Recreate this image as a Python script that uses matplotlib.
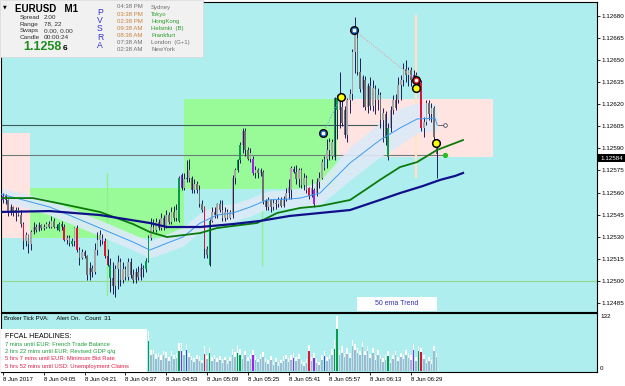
import numpy as np
import matplotlib
matplotlib.use("Agg")
import matplotlib.pyplot as plt
from matplotlib.patches import Rectangle

plt.rcParams['font.family'] = ['Liberation Sans', 'DejaVu Sans']

# ---------------- data (prices in points above 1.12000) ----------------
BASE = 1.12
PT = 1e-5

opens = [555,558,555,547,550,546,548,545,539,527,531,525,533,537,535,538,536,537,539,537,
         541,537,535,539,537,528,529,525,527,536,521,516,520,517,504,509,506,521,528,529,
         527,517,511,502,497,508,513,501,508,503,513,504,501,506,503,509,508,514,529,537,
         535,540,536,543,537,545,540,547,543,541,572,563,569,570,570,562,566,562,552,550,
         522,511,541,547,545,552,548,543,547,543,545,570,575,582,592,602,589,583,583,573,
         575,573,574,554,550,555,550,553,552,555,551,556,560,562,576,574,569,575,565,570,
         563,558,562,560,567,570,577,583,589,585,584,624,616,618,616,599,623,627,655,665,
         642,630,636,618,632,619,630,623,626,609,613,584,604,616,623,623,633,636,644,640,
         643,638,640,634,634,604,608,621,613,617,594]
highs = [560,559,556,552,551,550,550,548,540,533,532,535,540,539,540,539,539,540,541,544,
         543,539,540,541,539,531,531,529,537,538,523,522,521,518,513,511,526,533,535,532,
         529,522,516,513,511,518,516,513,510,516,516,508,509,510,512,511,516,531,543,542,
         543,542,546,545,548,547,550,551,552,571,573,573,582,583,571,569,568,565,555,551,
         524,542,550,550,553,555,555,550,549,548,572,577,583,594,604,604,591,590,585,578,
         577,577,575,556,557,556,556,556,557,557,558,563,569,578,578,579,577,577,573,572,
         564,569,563,570,574,583,585,596,597,596,625,626,642,623,619,624,630,657,679,668,
         651,640,639,634,638,636,633,631,628,617,615,607,619,626,627,638,640,648,650,645,
         645,643,642,636,636,611,623,623,621,619,596]
lows = [553,552,544,545,544,541,544,537,522,524,519,521,532,533,534,535,535,536,536,536,
        536,535,534,535,527,525,524,524,524,520,511,515,516,501,501,503,505,518,524,525,
        516,510,493,491,489,495,497,499,501,501,502,499,499,501,501,503,506,513,528,533,
        533,535,535,535,536,539,539,541,541,540,562,562,567,567,560,560,560,550,547,516,
        516,510,540,543,543,547,541,541,542,542,543,566,574,580,587,585,582,581,572,570,
        570,571,552,548,548,547,548,549,550,550,550,554,556,556,573,566,564,563,562,560,
        556,557,550,558,563,569,575,577,582,583,582,596,604,605,597,594,614,623,641,640,
        628,618,616,614,616,615,613,616,604,594,592,582,601,613,616,621,623,632,635,632,
        632,636,631,630,602,598,606,609,608,594,570]
closes = [558,555,547,550,546,548,545,539,527,531,525,533,537,535,538,536,537,539,537,541,
          537,536,539,537,528,529,526,527,536,521,516,520,517,504,509,506,521,528,531,527,
          517,511,502,497,508,513,501,508,503,513,504,501,506,503,509,508,514,529,537,535,
          540,536,543,537,545,540,547,543,548,570,563,569,570,575,562,566,562,552,548,522,
          518,541,547,545,552,548,543,547,543,547,570,575,582,592,602,589,583,587,573,575,
          573,575,554,550,555,550,553,552,555,551,556,560,564,577,574,569,575,565,570,562,
          558,563,552,567,570,581,583,589,594,594,624,616,623,607,599,623,627,655,667,642,
          630,638,618,632,619,631,623,626,609,614,597,604,616,623,617,633,636,644,640,643,
          636,640,634,632,604,608,621,613,617,598,586]
volumes = [35,28,40,30,25,45,32,38,55,40,36,30,25,22,28,20,24,18,26,30,
           22,27,40,25,48,30,28,38,35,52,45,33,28,46,38,30,42,36,32,35,
           44,48,50,42,36,40,30,28,34,26,30,24,28,32,26,30,
           51,73,38,42,30,35,28,40,33,25,
           36,30,33,50,48,38,52,35,28,22,
           30,25,20,42,30,44,25,30,22,28,
           20,26,18,24,40,35,45,40,30,38,
           25,30,38,28,22,30,35,22,18,26,
           15,22,12,20,25,30,22,28,33,25,
           30,18,12,20,48,25,33,20,15,28,
           36,25,30,40,55,102,40,45,35,42,
           33,60,52,45,40,58,38,50,32,45,
           28,40,30,22,28,36,20,30,38,25,
           35,30,40,32,28,51,25,49,46,30,
           20,25,18,48,35]
vol_tips = [12,10,14,9,11,15,8,12,16,10,9,13,11,8,12,10,9,14,11,10,
            12,9,15,10,13,11,9,12,10,14,12,10,9,13,11,10,12,9,11,10,
            13,12,14,10,11,12,9,10,11,8,10,9,11,12,8,10,
            12,25,14,10,12,9,11,8,13,10,
            12,9,11,18,20,10,14,9,8,10,
            9,12,8,20,9,12,10,8,11,9,
            10,8,9,10,14,12,18,15,10,12,
            9,11,14,10,8,12,11,9,8,10,
            8,9,10,8,12,10,9,11,12,10,
            12,8,9,10,15,10,12,9,8,10,
            12,10,9,14,20,33,12,15,10,14,
            12,15,14,12,10,13,12,11,10,12,
            10,12,9,10,11,12,8,10,12,9,
            10,9,12,11,10,14,9,12,10,9,
            8,10,9,14,10]
# PVSRA colour codes for special bars (g=bull climax, r=bear climax, b/p=rising volume)
bar_codes = {0:'p',5:'g',8:'r',22:'g',24:'r',27:'g',29:'r',39:'p',40:'r',41:'r',42:'g',
             56:'g',57:'g',69:'g',70:'p',72:'b',79:'r',81:'g',92:'g',93:'g',98:'p',114:'p',
             120:'r',122:'p',126:'b',130:'g',131:'g',151:'g',161:'p',163:'g',164:'r'}

# moving averages (bar position, points)
ma_slow_x = [-0.8,18.4,38.0,57.6,64.3,77.3,90.2,100.8,112.5,124.3,136.1,147.8,155.7,164.7,171.4,177.3,180.4]
ma_slow_v = [546.9,547.5,544.8,539.4,536.7,536.7,538.7,540.8,544.2,546.2,548.2,555.0,559.7,564.5,568.6,571.3,573.3]
ma_50_x = [-0.8,11.8,25.1,38.0,51.0,57.6,64.3,77.3,83.9,90.2,99.6,107.5,116.5,124.3,136.1,142.0,147.8,155.7,162.4,170.2,180.4]
ma_50_v = [556.3,556.3,551.6,546.9,538.7,533.3,529.9,532.6,536.0,537.4,539.4,546.2,549.6,550.9,555.0,561.8,568.6,577.3,580.7,588.9,595.6]
ema_x = [-0.8,18.4,38.0,51.0,57.6,64.3,70.6,77.3,83.9,90.2,96.9,103.5,112.5,116.5,124.3,129.4,136.1,147.8,155.7,162.4,169.4,170.3]
ema_v = [559.0,550.2,536.0,526.5,521.1,525.8,529.9,539.4,544.8,546.2,550.2,555.0,555.7,556.3,559.7,568.5,580.1,595.6,603.8,609.9,610.5,605.7]
band_hi = [563.1,555.0,541.4,531.9,527.2,531.9,536.7,546.2,551.6,552.3,556.3,561.1,561.8,563.1,567.9,578.0,590.9,607.2,617.3,620.7,620.0,614.0]
band_lo = [554.3,544.8,530.6,521.1,515.7,519.7,523.8,533.3,538.7,540.1,544.1,548.9,549.6,549.6,551.6,559.0,568.5,584.1,592.3,600.4,602.4,600.0]

# zones: (start bar, end bar, low pts, high pts, colour)
zones = [(-0.8, 10.6, 529.0, 600.2, '#FFE4E1'),
         (10.6, 71.0, 529.0, 563.3, '#98FB98'),
         (71.0, 131.0, 562.2, 623.4, '#98FB98'),
         (131.0, 192.2, 584.1, 623.4, '#FFE4E1')]
hlines = [(606.0, -0.8, 151.0, '#3E5E5E'), (585.5, -0.8, 172.0, '#6E7C7C'), (500.0, -0.8, 233.0, '#8FD88F')]
vlines_ = [(40.9, 490.6, 573.3, '#90EE90', 1.0), (101.6, 511.0, 548.2, '#90EE90', 1.0), (162.0, 570.6, 679.7, '#FFE4C4', 1.6)]
blue_pts = [(137.6, 670.2), (125.5, 600.4)]
yellow_pts = [(132.5, 624.8), (162.0, 630.9), (169.8, 593.6)]
red_pts = [(162.0, 636.3)]

price_ticks = [485, 500, 515, 530, 545, 560, 575, 590, 605, 620, 635, 650, 665, 680]
time_pos = [0, 16, 32, 48, 64, 80, 96, 112, 128, 144, 160]
time_labels = ['8 Jun 2017', '8 Jun 04:05', '8 Jun 04:21', '8 Jun 04:37', '8 Jun 04:53', '8 Jun 05:09',
               '8 Jun 05:25', '8 Jun 05:41', '8 Jun 05:57', '8 Jun 06:13', '8 Jun 06:29']

# ---------------- drawing ----------------
W, H = 625, 386
fig = plt.figure(figsize=(W / 100, H / 100), dpi=100)
fig.patch.set_facecolor('white')

def fx(px):
    return px / W

def fy(py):
    return 1 - py / H

def P(a):
    return BASE + np.asarray(a, dtype=float) * PT

BG = '#AFEEEE'
SMALL = 4.5
PAL = {'g': '#0A9A4A', 'r': '#DC143C', 'b': '#2A52D8', 'p': '#A020F0'}
BULL, BEAR, WICK = '#A6A6A6', '#707070', '#1E1E5A'

n = len(opens)
xi = np.arange(n)
XMIN, XMAX = -0.784, 232.94

ax = fig.add_axes([fx(1), fy(311.5), fx(596), (311.5 - 2) / H])
ax.set_facecolor(BG)
ax.set_xlim(XMIN, XMAX)
ax.set_ylim(float(P(479.45)), float(P(689.15)))

for x0, x1, lo, hi, c in zones:
    ax.add_patch(Rectangle((x0, float(P(lo))), x1 - x0, float(P(hi) - P(lo)), facecolor=c, lw=0, zorder=0.5))
for v, x0, x1, c in hlines:
    ax.plot([x0, x1], [P(v), P(v)], color=c, lw=0.8, zorder=0.8)
for x, lo, hi, c, lw in vlines_:
    ax.plot([x, x], [P(lo), P(hi)], color=c, lw=lw, zorder=0.9)

ax.fill_between(ema_x, P(band_lo), P(band_hi), color='#DCEAF8', lw=0, alpha=0.9, zorder=1)

cols = []
for i in range(n):
    code = bar_codes.get(i)
    if code:
        cols.append(PAL[code])
    else:
        cols.append(BULL if closes[i] >= opens[i] else BEAR)
o = np.array(opens, float)
c = np.array(closes, float)
bottoms = np.minimum(o, c)
heights = np.maximum(np.abs(c - o), 0.7)
ax.vlines(xi, P(lows), P(highs), colors=WICK, lw=0.7, zorder=2)
ax.bar(xi, heights * PT, bottom=P(bottoms), width=0.62, color=cols, lw=0, zorder=2.5)

ax.plot(ema_x, P(ema_v), color='#3D9BF0', lw=0.7, zorder=3)
ax.plot(ma_50_x, P(ma_50_v), color='#0B7A0B', lw=1.3, zorder=3.1)
ax.plot(ma_slow_x, P(ma_slow_v), color='#10108A', lw=1.6, zorder=3.2)

# dotted connector lines
ax.plot([blue_pts[0][0], red_pts[0][0]], [P(blue_pts[0][1]), P(red_pts[0][1])], color='#E8A0A0', lw=0.8, ls=(0, (1, 1.5)), zorder=3.5)
ax.plot([blue_pts[1][0], yellow_pts[0][0]], [P(blue_pts[1][1]), P(yellow_pts[0][1])], color='#6FA8DC', lw=0.8, ls=(0, (1, 1.5)), zorder=3.5)

for x, v in blue_pts:
    ax.plot(x, P(v), 'o', ms=5.5, mfc='#1E6FE0', mec='black', mew=1.0, zorder=5)
    ax.plot(x, P(v), 's', ms=1.8, mfc='white', mec='white', zorder=5.1)
for x, v in yellow_pts:
    ax.plot(x, P(v), 'o', ms=5.5, mfc='#FFFF00', mec='black', mew=1.1, zorder=5)
for x, v in red_pts:
    ax.plot(x, P(v), 'o', ms=5.5, mfc='#FF1010', mec='black', mew=1.0, zorder=5)
    ax.plot(x, P(v), 's', ms=1.8, mfc='white', mec='white', zorder=5.1)
ax.plot([170.5, 172.6], [P(606), P(606)], color='#505050', lw=0.6, zorder=5)
ax.plot(173.2, P(606), 'o', ms=2.6, mfc='white', mec='#404040', mew=0.6, zorder=5)
ax.plot(173.2, P(585.5), 'o', ms=2.8, mfc='#22C022', mec='#22C022', zorder=5)

ax.set_xticks([])
ax.yaxis.tick_right()
ax.set_yticks(P(price_ticks))
ax.set_yticklabels(['%.5f' % p for p in P(price_ticks)])
ax.tick_params(axis='y', length=2.5, width=0.6, pad=1.0, labelsize=SMALL, colors='black', direction='out')
for s in ax.spines.values():
    s.set_color('black')
    s.set_linewidth(0.8)

# ---------------- volume sub window ----------------
ax2 = fig.add_axes([fx(1), fy(372), fx(596), (372 - 312.5) / H])
ax2.set_facecolor(BG)
ax2.set_xlim(XMIN, XMAX)
ax2.set_ylim(-2.4, 143)
vcols = [PAL[bar_codes[i]] if i in bar_codes else '#A3B8CE' for i in range(n)]
ax2.bar(xi, volumes, width=0.62, color=vcols, lw=0)
ax2.bar(xi, vol_tips, bottom=volumes, width=0.62, color='white', lw=0)
ax2.set_yticks([])
ax2.set_xticks(time_pos)
ax2.set_xticklabels(time_labels, ha='left')
ax2.tick_params(axis='x', length=2.5, width=0.6, pad=1.2, labelsize=4.3, colors='black')
for s in ax2.spines.values():
    s.set_color('black')
    s.set_linewidth(0.8)

def ftext(x, y, s, **kw):
    kw.setdefault('fontsize', SMALL)
    kw.setdefault('va', 'center')
    kw.setdefault('ha', 'left')
    fig.text(fx(x), fy(y), s, **kw)

def fbox(x0, y0, x1, y1, fc, ec='none', z=6):
    fig.add_artist(Rectangle((fx(x0), fy(y1)), fx(x1 - x0), (y1 - y0) / H, transform=fig.transFigure,
                             facecolor=fc, edgecolor=ec, lw=0.5, zorder=z))

ftext(600, 316.7, '132')
ftext(600, 368, '0')

# bid label
fbox(598, 154, 625, 162, 'black', z=7)
ftext(600, 158, '1.12584', color='white', zorder=8)

# info panel
fbox(0, 0, 203, 57, '#F1F1F1', ec='#D8D8D8')
ftext(3, 6.5, '\u25BC', fontsize=3.5, family='DejaVu Sans', zorder=8)
ftext(15, 8.5, 'EURUSD   M1', fontsize=7.0, fontweight='bold', color='black', zorder=8)
info_labels = ['Spread', 'Range', 'Swaps', 'Candle']
info_values = ['2.00', '78, 22', '0.00, 0.00', '00:00:24']
for k, (lab, val) in enumerate(zip(info_labels, info_values)):
    ftext(20, 17.5 + 6.6 * k, lab, color='#303030', fontsize=4.6, zorder=8)
    ftext(44, 17.5 + 6.6 * k, val, color='#303030', fontsize=4.6, zorder=8)
ftext(23, 47.5, '1.1258', fontsize=9.0, fontweight='bold', color='#1E8C1E', zorder=8)
ftext(63, 49, '6', fontsize=6.0, fontweight='bold', color='black', zorder=8)
for k, ch in enumerate('PVSRA'):
    ftext(100, 12.5 + 8.2 * k, ch, fontsize=6.2, color='#3535D0', ha='center', zorder=8)
times = ['04:38 PM', '03:38 PM', '02:38 PM', '09:38 AM', '08:38 AM', '07:38 AM', '02:38 AM']
time_cols = ['#707070', '#C8823A', '#C8823A', '#C8823A', '#C8823A', '#707070', '#707070']
cities = ['Sydney', 'Tokyo', 'HongKong', 'Helsinki  (B)', 'Frankfurt', 'London  (G+1)', 'NewYork']
city_cols = ['#707070', '#2E9E2E', '#2E9E2E', '#2E9E2E', '#2E9E2E', '#707070', '#707070']
for k in range(7):
    ftext(117, 7 + 7.1 * k, times[k], color=time_cols[k], fontsize=4.3, zorder=8)
    ftext(151, 7 + 7.1 * k, cities[k], color=city_cols[k], fontsize=4.3, zorder=8)

# 50 ema trend box
fbox(357, 297, 437, 310.5, 'white')
ftext(397, 303.5, '50 ema Trend', color='#3030B0', ha='center', fontsize=5.0, zorder=8)

# sub window texts
ftext(4, 318.5, 'Broker Tick PVA:     Alert On.   Count  31', color='black', fontsize=4.3, zorder=8)
fbox(0.5, 329, 147, 371.5, 'white')
ftext(5, 336, 'FFCAL HEADLINES:', color='black', fontsize=5.0, zorder=8)
headlines = ['7 mins until EUR: French Trade Balance', '2 hrs 22 mins until EUR: Revised GDP q/q',
             '5 hrs 7 mins until EUR: Minimum Bid Rate', '5 hrs 52 mins until USD: Unemployment Claims']
head_cols = ['#1E9E3A', '#1E9E3A', '#E0204A', '#E0204A']
for k in range(4):
    ftext(5, 344.3 + 7.3 * k, headlines[k], color=head_cols[k], fontsize=4.2, zorder=8)

fig.savefig('out.png', dpi=100, facecolor='white')
